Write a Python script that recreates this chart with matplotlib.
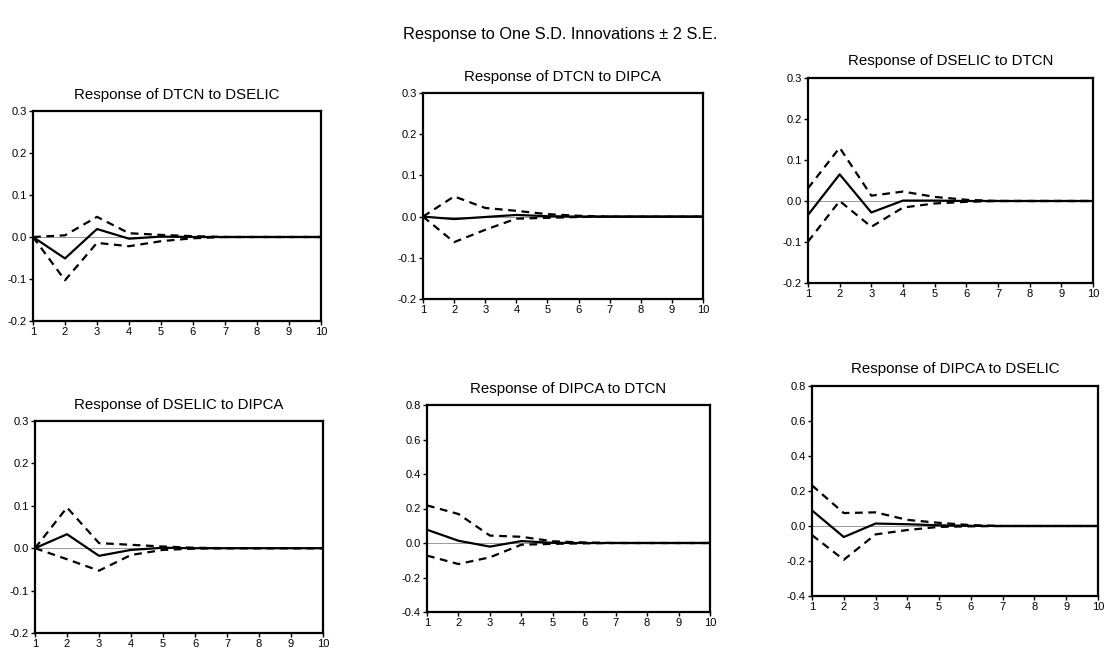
import matplotlib
matplotlib.use("Agg")
import matplotlib.pyplot as plt
import numpy as np

plt.rcParams["font.family"] = ["Liberation Sans", "DejaVu Sans"]

periods = np.arange(1, 11)

titles = [
    "Response of DTCN to DSELIC",
    "Response of DTCN to DIPCA",
    "Response of DSELIC to DTCN",
    "Response of DSELIC to DIPCA",
    "Response of DIPCA to DTCN",
    "Response of DIPCA to DSELIC",
]

# impulse responses (solid) and +/- 2 S.E. bands (dashed)
resp_dtcn_dselic = [0.0, -0.051, 0.019, -0.004, 0.001, 0.0, 0.0, 0.0, 0.0, 0.0]
upper_dtcn_dselic = [0.0, 0.004, 0.048, 0.009, 0.005, 0.002, 0.0, 0.0, 0.0, 0.0]
lower_dtcn_dselic = [0.0, -0.103, -0.014, -0.022, -0.010, -0.003, 0.0, 0.0, 0.0, 0.0]

resp_dtcn_dipca = [0.0, -0.006, -0.001, 0.004, 0.001, 0.0, 0.0, 0.0, 0.0, 0.0]
upper_dtcn_dipca = [0.0, 0.049, 0.021, 0.014, 0.006, 0.002, 0.0, 0.0, 0.0, 0.0]
lower_dtcn_dipca = [0.0, -0.062, -0.032, -0.005, -0.003, -0.001, 0.0, 0.0, 0.0, 0.0]

resp_dselic_dtcn = [-0.034, 0.065, -0.028, 0.001, 0.001, 0.0, 0.0, 0.0, 0.0, 0.0]
upper_dselic_dtcn = [0.031, 0.130, 0.013, 0.023, 0.010, 0.003, 0.0, 0.0, 0.0, 0.0]
lower_dselic_dtcn = [-0.099, 0.0, -0.063, -0.016, -0.006, -0.002, 0.0, 0.0, 0.0, 0.0]

resp_dselic_dipca = [0.0, 0.033, -0.018, -0.004, 0.001, 0.0, 0.0, 0.0, 0.0, 0.0]
upper_dselic_dipca = [0.0, 0.096, 0.012, 0.008, 0.004, 0.001, 0.0, 0.0, 0.0, 0.0]
lower_dselic_dipca = [0.0, -0.026, -0.053, -0.016, -0.004, -0.001, 0.0, 0.0, 0.0, 0.0]

resp_dipca_dtcn = [0.077, 0.013, -0.021, 0.011, 0.001, 0.0, 0.0, 0.0, 0.0, 0.0]
upper_dipca_dtcn = [0.218, 0.168, 0.043, 0.036, 0.010, 0.003, 0.0, 0.0, 0.0, 0.0]
lower_dipca_dtcn = [-0.073, -0.122, -0.083, -0.010, -0.005, -0.002, 0.0, 0.0, 0.0, 0.0]

resp_dipca_dselic = [0.089, -0.063, 0.014, 0.010, 0.004, 0.001, 0.0, 0.0, 0.0, 0.0]
upper_dipca_dselic = [0.232, 0.074, 0.078, 0.035, 0.018, 0.005, 0.0, 0.0, 0.0, 0.0]
lower_dipca_dselic = [-0.052, -0.193, -0.048, -0.023, -0.005, -0.002, 0.0, 0.0, 0.0, 0.0]

responses = [resp_dtcn_dselic, resp_dtcn_dipca, resp_dselic_dtcn,
             resp_dselic_dipca, resp_dipca_dtcn, resp_dipca_dselic]
uppers = [upper_dtcn_dselic, upper_dtcn_dipca, upper_dselic_dtcn,
          upper_dselic_dipca, upper_dipca_dtcn, upper_dipca_dselic]
lowers = [lower_dtcn_dselic, lower_dtcn_dipca, lower_dselic_dtcn,
          lower_dselic_dipca, lower_dipca_dtcn, lower_dipca_dselic]

small_ticks = [-0.2, -0.1, 0.0, 0.1, 0.2, 0.3]
large_ticks = [-0.4, -0.2, 0.0, 0.2, 0.4, 0.6, 0.8]
yticks = [small_ticks, small_ticks, small_ticks, small_ticks, large_ticks, large_ticks]

# panel boxes in pixels: left, top, right, bottom
W, H = 1109, 664
boxes = [
    (33, 111, 321, 321),
    (423, 93, 703, 299),
    (808, 78, 1093, 283),
    (35, 421, 323, 633),
    (427, 405, 710, 612),
    (812, 386, 1098, 596),
]

fig = plt.figure(figsize=(W / 100, H / 100), dpi=100)
fig.text(560 / W, 1 - 35 / H, "Response to One S.D. Innovations \u00b1 2 S.E.",
         ha="center", va="center", fontsize=11.8)

for i, (l, t, r, b) in enumerate(boxes):
    ax = fig.add_axes([l / W, 1 - b / H, (r - l) / W, (b - t) / H])
    ax.axhline(0, color="#9a9a9a", lw=0.7, zorder=1)
    ax.plot(periods, responses[i], color="black", lw=1.6, zorder=3)
    ax.plot(periods, uppers[i], color="black", lw=1.6, ls=(0, (3.5, 2.5)), zorder=3)
    ax.plot(periods, lowers[i], color="black", lw=1.6, ls=(0, (3.5, 2.5)), zorder=3)
    ax.set_xlim(1, 10)
    ax.set_ylim(yticks[i][0], yticks[i][-1])
    ax.set_xticks(periods)
    ax.set_yticks(yticks[i])
    ax.set_yticklabels([f"{v:.1f}" for v in yticks[i]])
    ax.tick_params(direction="out", length=3, width=1, labelsize=8, pad=1.5)
    for sp in ax.spines.values():
        sp.set_linewidth(1.6)
    ax.set_title(titles[i], fontsize=10.8, pad=9)

fig.savefig("out.png", dpi=100)
